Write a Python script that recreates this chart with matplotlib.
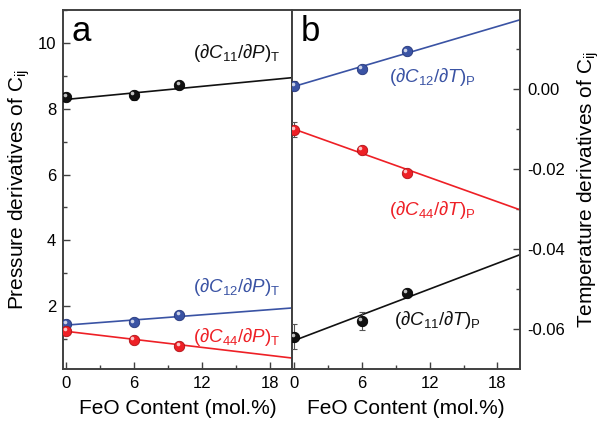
import matplotlib.pyplot as plt
from matplotlib.ticker import MultipleLocator
from matplotlib.transforms import offset_copy

plt.rcParams['font.family'] = ['Liberation Sans', 'DejaVu Sans']
plt.rcParams['mathtext.fontset'] = 'custom'
plt.rcParams['mathtext.rm'] = 'Liberation Sans'
plt.rcParams['mathtext.it'] = 'Liberation Sans:italic'
plt.rcParams['mathtext.bf'] = 'Liberation Sans:bold'

# FeO content (mol.%)
feo = [0, 6, 10]
fit_x = [0, 20]

# pressure derivatives (panel a)
p_c11 = [8.35, 8.41, 8.73]
p_c11_err = [0.08, 0.14, 0.08]
p_c11_fit = [8.28, 8.94]
p_c12 = [1.47, 1.51, 1.75]
p_c12_err = [0.05, 0.05, 0.05]
p_c12_fit = [1.43, 1.95]
p_c44 = [1.26, 0.99, 0.81]
p_c44_err = [0.08, 0.06, 0.12]
p_c44_fit = [1.24, 0.43]

# temperature derivatives (panel b)
t_c12 = [0.0008, 0.0049, 0.0093]
t_c12_err = [0.0012, 0.0006, 0.0006]
t_c12_fit = [0.0006, 0.0172]
t_c44 = [-0.0102, -0.0152, -0.0210]
t_c44_err = [0.0019, 0.0006, 0.0006]
t_c44_fit = [-0.0101, -0.0302]
t_c11 = [-0.0619, -0.0579, -0.0509]
t_c11_err = [0.0031, 0.0023, 0.0006]
t_c11_fit = [-0.0628, -0.0414]

black = '#111111'
blue = '#3A53A4'
red = '#EE2026'
spine_c = '#404040'


def balls(ax, x, y, err, color, edge):
    ax.errorbar(x, y, yerr=err, fmt='none', ecolor='#555555', elinewidth=0.8,
                capsize=2.5, capthick=0.8, zorder=3)
    ax.plot(x, y, 'o', ms=7.5, color=color, mec=edge, mew=0.6, zorder=4)
    hl = offset_copy(ax.transData, fig=ax.figure, x=-1.2, y=1.2, units='points')
    ax.plot(x, y, 'o', ms=2.6, color='white', alpha=0.75, mew=0, transform=hl, zorder=5)


def style(ax):
    for s in ax.spines.values():
        s.set_color(spine_c)
        s.set_linewidth(1.4)
    ax.tick_params(which='both', direction='in', color=spine_c, labelsize=12,
                   width=1.0, pad=5)
    ax.tick_params(which='major', length=5)
    ax.tick_params(which='minor', length=3)
    ax.xaxis.set_major_locator(MultipleLocator(6))
    ax.xaxis.set_minor_locator(MultipleLocator(3))
    ax.set_xlabel('FeO Content (mol.%)', fontsize=15, labelpad=6)


fig = plt.figure(figsize=(6.06, 4.26), dpi=100)
ax1 = fig.add_axes([0.104, 0.134, 0.378, 0.843])
ax2 = fig.add_axes([0.482, 0.134, 0.376, 0.843])

# panel a
ax1.plot(fit_x, p_c11_fit, color=black, lw=1.2, zorder=2)
ax1.plot(fit_x, p_c12_fit, color=blue, lw=1.2, zorder=2)
ax1.plot(fit_x, p_c44_fit, color=red, lw=1.2, zorder=2)
balls(ax1, feo, p_c11, p_c11_err, black, '#000000')
balls(ax1, feo, p_c12, p_c12_err, blue, '#24357a')
balls(ax1, feo, p_c44, p_c44_err, red, '#b01015')
style(ax1)
ax1.set_xlim(-0.3, 20)
ax1.set_ylim(0.1, 11)
ax1.yaxis.set_major_locator(MultipleLocator(2))
ax1.yaxis.set_minor_locator(MultipleLocator(1))
ax1.set_ylabel('Pressure derivatives of C$_{\\mathrm{ij}}$', fontsize=15, labelpad=4)
ax1.text(0.035, 0.985, 'a', transform=ax1.transAxes, fontsize=25, ha='left', va='top')
ax1.text(11.2, 9.7, r'$(\partial C_{11}/\partial P)_{\mathrm{T}}$', color=black,
         fontsize=13.5, ha='left', va='center')
ax1.text(11.2, 2.6, r'$(\partial C_{12}/\partial P)_{\mathrm{T}}$', color=blue,
         fontsize=13.5, ha='left', va='center')
ax1.text(11.2, 1.08, r'$(\partial C_{44}/\partial P)_{\mathrm{T}}$', color=red,
         fontsize=13.5, ha='left', va='center')

# panel b
ax2.plot(fit_x, t_c12_fit, color=blue, lw=1.2, zorder=2)
ax2.plot(fit_x, t_c44_fit, color=red, lw=1.2, zorder=2)
ax2.plot(fit_x, t_c11_fit, color=black, lw=1.2, zorder=2)
balls(ax2, feo, t_c12, t_c12_err, blue, '#24357a')
balls(ax2, feo, t_c44, t_c44_err, red, '#b01015')
balls(ax2, feo, t_c11, t_c11_err, black, '#000000')
style(ax2)
ax2.set_xlim(-0.2, 20)
ax2.set_ylim(-0.0699, 0.0197)
ax2.yaxis.set_major_locator(MultipleLocator(0.02))
ax2.yaxis.set_minor_locator(MultipleLocator(0.01))
ax2.yaxis.set_major_formatter(plt.FormatStrFormatter('%.2f'))
ax2.yaxis.tick_right()
ax2.yaxis.set_label_position('right')
ax2.tick_params(axis='y', which='both', left=False, right=True)
ax2.set_ylabel('Temperature derivatives of C$_{\\mathrm{ij}}$', fontsize=15, labelpad=8)
ax2.text(0.04, 0.985, 'b', transform=ax2.transAxes, fontsize=25, ha='left', va='top')
ax2.text(8.4, 0.003, r'$(\partial C_{12}/\partial T)_{\mathrm{P}}$', color=blue,
         fontsize=13.5, ha='left', va='center')
ax2.text(8.4, -0.0302, r'$(\partial C_{44}/\partial T)_{\mathrm{P}}$', color=red,
         fontsize=13.5, ha='left', va='center')
ax2.text(8.8, -0.0576, r'$(\partial C_{11}/\partial T)_{\mathrm{P}}$', color=black,
         fontsize=13.5, ha='left', va='center')

plt.savefig('out.png', dpi=100)
